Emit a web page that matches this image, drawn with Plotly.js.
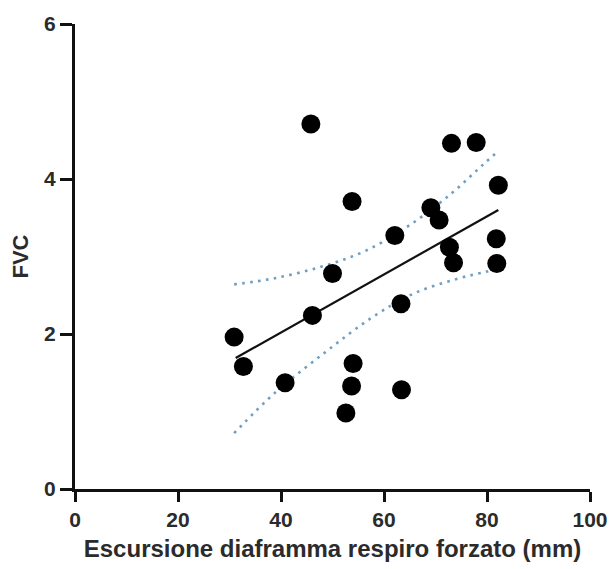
<!DOCTYPE html>
<html>
<head>
<meta charset="utf-8">
<script src="https://cdn.plot.ly/plotly-3.0.1.min.js"></script>
<style>html,body{margin:0;padding:0;background:#fff;}#chart{width:609px;height:569px;}</style>
</head>
<body>
<div id="chart"></div>
<script>
// Observed data: diaphragm excursion (mm) vs FVC
const excursion = [45.8, 73.1, 77.9, 82.2, 53.8, 69.1, 70.7, 62.1, 81.8, 72.7, 73.5, 81.9, 50.0, 63.3, 46.1, 30.9, 32.7, 40.8, 54.0, 53.7, 63.4, 52.6];
const fvc       = [4.71, 4.46, 4.47, 3.92, 3.71, 3.63, 3.47, 3.27, 3.23, 3.12, 2.92, 2.91, 2.78, 2.39, 2.24, 1.96, 1.58, 1.37, 1.62, 1.33, 1.28, 0.98];

// Regression line
const fitX = [31.2, 82.2];
const fitY = [1.69, 3.60];

// 95% confidence bands
const upperX = [30.9, 38.8, 47.9, 56.3, 65.1, 73.2, 79.3, 82.2];
const upperY = [2.64, 2.72, 2.87, 3.07, 3.41, 3.82, 4.19, 4.36];
const lowerX = [30.9, 38.8, 48.5, 57.6, 65.7, 74.1, 79.6, 82.2];
const lowerY = [0.72, 1.24, 1.76, 2.21, 2.52, 2.71, 2.80, 2.84];

const xTicks = [0, 20, 40, 60, 80, 100];
const yTicks = [0, 2, 4, 6];

const bandColor = '#6f9fc2';
const font = {family: '"Liberation Sans", Arial, sans-serif', color: '#2b2b2b'};

const traces = [
  {x: upperX, y: upperY, mode: 'lines', line: {color: bandColor, width: 2.6, dash: '2.6px,5.4px', shape: 'spline'}, hoverinfo: 'skip'},
  {x: lowerX, y: lowerY, mode: 'lines', line: {color: bandColor, width: 2.6, dash: '2.6px,5.4px', shape: 'spline'}, hoverinfo: 'skip'},
  {x: fitX, y: fitY, mode: 'lines', line: {color: '#111', width: 2.2}},
  {x: excursion, y: fvc, mode: 'markers', marker: {color: '#000', size: 19}}
];

const layout = {
  width: 609, height: 569,
  margin: {l: 75, r: 19, t: 24, b: 80},
  showlegend: false,
  paper_bgcolor: '#fff', plot_bgcolor: '#fff',
  xaxis: {
    range: [0, 100], tickvals: xTicks, ticktext: xTicks.map(String),
    showgrid: false, zeroline: false, showline: true, linewidth: 3, linecolor: '#111',
    ticks: 'outside', ticklen: 10, tickwidth: 3, tickcolor: '#111',
    tickfont: {family: font.family, color: font.color, size: 21, weight: 'bold'},
    title: {text: '<b>Escursione diaframma respiro forzato (mm)</b>', font: {family: font.family, color: font.color, size: 24}, standoff: 10},
    fixedrange: true
  },
  yaxis: {
    range: [0, 6], tickvals: yTicks, ticktext: yTicks.map(String),
    showgrid: false, zeroline: false, showline: true, linewidth: 3, linecolor: '#111',
    ticks: 'outside', ticklen: 12, tickwidth: 3, tickcolor: '#111',
    tickfont: {family: font.family, color: font.color, size: 21, weight: 'bold'},
    title: {text: '<b>FVC</b>', font: {family: font.family, color: font.color, size: 22}, standoff: 10},
    fixedrange: true
  }
};

Plotly.newPlot('chart', traces, layout, {displayModeBar: false, staticPlot: true});
</script>
</body>
</html>
